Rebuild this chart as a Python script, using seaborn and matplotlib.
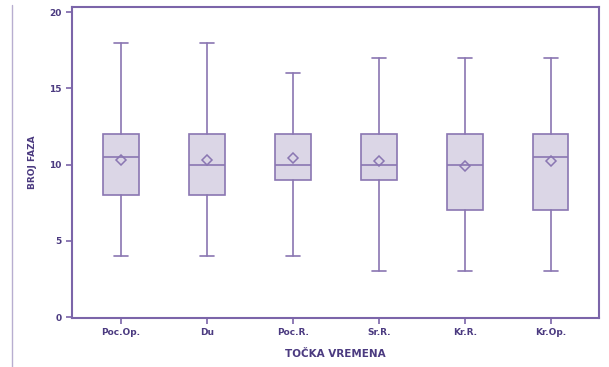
import numpy as np
import matplotlib
matplotlib.use('Agg')
import matplotlib.pyplot as plt
from matplotlib.lines import Line2D
import seaborn as sns

sns.set_style('white')
plt.rcParams['font.family'] = ['DejaVu Sans']

# podaci očitani sa slike
tocke = ['Poc.Op.', 'Du', 'Poc.R.', 'Sr.R.', 'Kr.R.', 'Kr.Op.']
minimum = [4, 4, 4, 3, 3, 3]
q1 = [8, 8, 9, 9, 7, 7]
medijan = [10.5, 10, 10, 10, 10, 10.5]
q3 = [12, 12, 12, 12, 12, 12]
maksimum = [18, 18, 16, 17, 17, 17]
prosjek = [10.28, 10.3, 10.45, 10.25, 9.92, 10.22]

line_col = '#8a76b2'
fill_col = '#dbd6e6'
text_col = '#4b3a80'
spine_col = '#7b65a9'

fig = plt.figure(figsize=(6.09, 3.67), dpi=100)
ax = fig.add_axes([72 / 609, 49 / 367, 527 / 609, 311 / 367])

stats = []
for i, t in enumerate(tocke):
    stats.append({'label': t, 'whislo': minimum[i], 'q1': q1[i], 'med': medijan[i],
                  'q3': q3[i], 'whishi': maksimum[i], 'fliers': []})

ax.bxp(stats, positions=range(len(tocke)), widths=0.41, patch_artist=True,
       showfliers=False,
       boxprops=dict(facecolor=fill_col, edgecolor=line_col, linewidth=1.2),
       medianprops=dict(color=line_col, linewidth=1.2),
       whiskerprops=dict(color=line_col, linewidth=1.2),
       capprops=dict(color=line_col, linewidth=1.2),
       capwidths=0.16)

sns.pointplot(x=tocke, y=prosjek, ax=ax, linestyle='none', errorbar=None,
              marker='D', markersize=5.5, markerfacecolor=fill_col,
              markeredgecolor=line_col, markeredgewidth=1.1, color=line_col)

ax.set_xlim(-0.57, 5.56)
ax.set_ylim(-0.05, 20.33)
ax.set_yticks([0, 5, 10, 15, 20])
ax.set_xticks(range(len(tocke)))
ax.set_xticklabels(tocke)

for s in ax.spines.values():
    s.set_visible(True)
    s.set_color(spine_col)
    s.set_linewidth(1.5)

ax.tick_params(axis='both', colors=spine_col, labelcolor=text_col, labelsize=6.5,
               direction='out', length=4, width=1.2, left=True, bottom=True)
for lbl in ax.get_xticklabels() + ax.get_yticklabels():
    lbl.set_fontweight('bold')

ax.set_xlabel('TOČKA VREMENA', color=text_col, fontsize=7.5, fontweight='bold', labelpad=8)
ax.set_ylabel('BROJ FAZA', color=text_col, fontsize=6.5, fontweight='bold', labelpad=9)

# tanka okomita linija lijevo
fig.add_artist(Line2D([12 / 609, 12 / 609], [0, 1 - 5 / 367], color='#b8aed0', linewidth=1.0))

fig.savefig('out.png', dpi=100)
